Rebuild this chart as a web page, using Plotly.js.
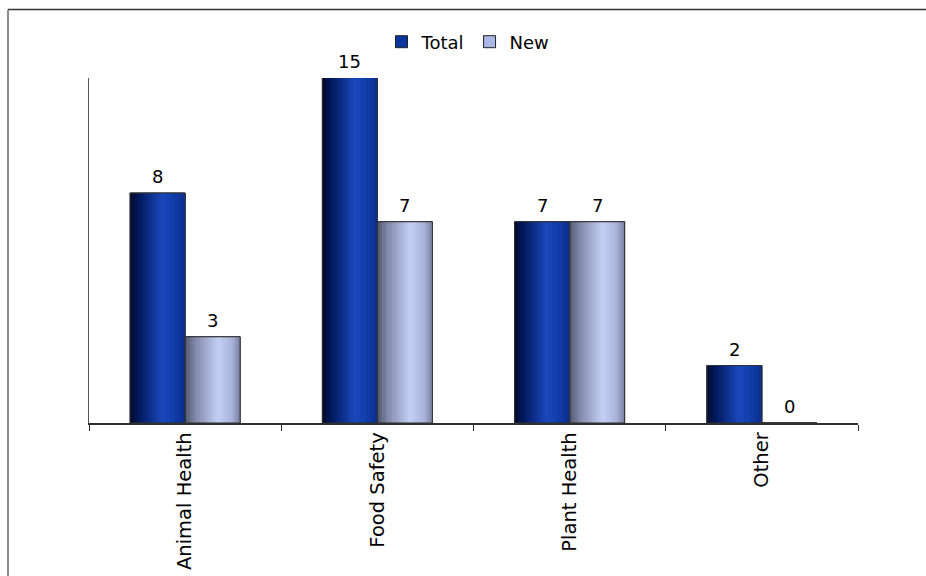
<!DOCTYPE html>
<html>
<head>
<meta charset="utf-8">
<script src="https://cdn.plot.ly/plotly-3.0.1.min.js"></script>
<style>html,body{margin:0;padding:0;background:#fff;}#chart{width:926px;height:576px;}</style>
</head>
<body>
<div id="chart"></div>
<script>
// ---- data ----
var categories = ['Animal Health', 'Food Safety', 'Plant Health', 'Other'];
var totalValues = [8, 15, 7, 2];
var newValues = [3, 7, 7, 0];
var seriesNames = ['Total', 'New'];
var yMax = 12;

// ---- layout geometry ----
var W = 926, H = 576;
var M = {l: 89, r: 68, t: 78, b: 153};
var PW = W - M.l - M.r, PH = H - M.t - M.b;
function px(x) { return (x - M.l) / PW; }
function py(y) { return (H - M.b - y) / PH; }

var FONT = 'DejaVu Sans, Verdana, sans-serif';
var barW = 0.286;
var N = 22;
var gradients = [
  [[0, [0, 10, 42]], [0.18, [2, 26, 95]], [0.58, [28, 72, 190]], [0.8, [16, 62, 168]], [1, [10, 46, 140]]],
  [[0, [80, 86, 108]], [0.2, [130, 138, 170]], [0.6, [198, 208, 246]], [0.85, [170, 180, 218]], [1, [120, 128, 160]]]
];
var legendColors = ['#0a35a0', '#aab6e6'];
function gradColor(stops, t) {
  for (var k = 0; k < stops.length - 1; k++) {
    var a = stops[k], b = stops[k + 1];
    if (t >= a[0] && t <= b[0]) {
      var f = (t - a[0]) / (b[0] - a[0]);
      var c = a[1].map(function (v, j) { return Math.round(v + (b[1][j] - v) * f); });
      return 'rgb(' + c.join(',') + ')';
    }
  }
  return 'rgb(' + stops[stops.length - 1][1].join(',') + ')';
}

var seriesValues = [totalValues, newValues];
var traces = [];
// legend traces (solid)
seriesValues.forEach(function (vals, s) {
  traces.push({
    type: 'bar', name: seriesNames[s], x: categories, y: vals,
    offset: s === 0 ? -barW : 0, width: barW,
    marker: {color: legendColors[s], line: {color: '#202020', width: 1}},
    hoverinfo: 'skip'
  });
});
// gradient slices
seriesValues.forEach(function (vals, s) {
  var base = s === 0 ? -barW : 0;
  for (var i = 0; i < N; i++) {
    traces.push({
      type: 'bar', x: categories, y: vals, showlegend: false,
      offset: base + i * barW / N, width: barW / N * 1.1,
      marker: {color: gradColor(gradients[s], (i + 0.5) / N), line: {width: 0}},
      hoverinfo: 'skip'
    });
  }
});
// outlines
seriesValues.forEach(function (vals, s) {
  traces.push({
    type: 'bar', x: categories, y: vals, showlegend: false,
    offset: s === 0 ? -barW : 0, width: barW,
    marker: {color: 'rgba(0,0,0,0)', line: {color: '#303030', width: 1}},
    hoverinfo: 'skip'
  });
});

var annotations = [];
seriesValues.forEach(function (vals, s) {
  vals.forEach(function (v, i) {
    annotations.push({
      x: i + (s === 0 ? -barW / 2 : barW / 2), y: Math.min(v, yMax),
      xref: 'x', yref: 'y', text: String(v), showarrow: false,
      yanchor: 'bottom', yshift: 4,
      font: {family: FONT, size: 18, color: '#000'}
    });
  });
});

var layout = {
  width: W, height: H,
  margin: M,
  paper_bgcolor: '#fff', plot_bgcolor: '#fff',
  barmode: 'overlay',
  font: {family: FONT, size: 18, color: '#000'},
  showlegend: true,
  legend: {orientation: 'h', x: px(468), xanchor: 'center', y: py(42), yanchor: 'middle',
           font: {family: FONT, size: 18, color: '#000'}, itemwidth: 30, tracegroupgap: 0},
  xaxis: {
    type: 'category', range: [-0.5, 3.5], showline: true, linecolor: '#303030', linewidth: 1.5,
    ticks: 'outside', tickson: 'boundaries', ticklen: 6, tickcolor: '#303030', tickwidth: 1,
    tickangle: -90, showgrid: false, zeroline: false, fixedrange: true,
    tickfont: {family: FONT, size: 19.5, color: '#000'}
  },
  yaxis: {
    range: [0, yMax], showline: true, linecolor: '#555', linewidth: 1.5,
    showticklabels: false, ticks: '', showgrid: false, zeroline: false, fixedrange: true
  },
  annotations: annotations,
  shapes: [
    {type: 'line', xref: 'paper', yref: 'paper', x0: px(8), x1: px(926), y0: py(9.5), y1: py(9.5),
     line: {color: '#333', width: 1.5}},
    {type: 'line', xref: 'paper', yref: 'paper', x0: px(8), x1: px(8), y0: py(9.5), y1: py(576),
     line: {color: '#666', width: 1.5}}
  ]
};

Plotly.newPlot('chart', traces, layout, {displayModeBar: false, staticPlot: true});
</script>
</body>
</html>
